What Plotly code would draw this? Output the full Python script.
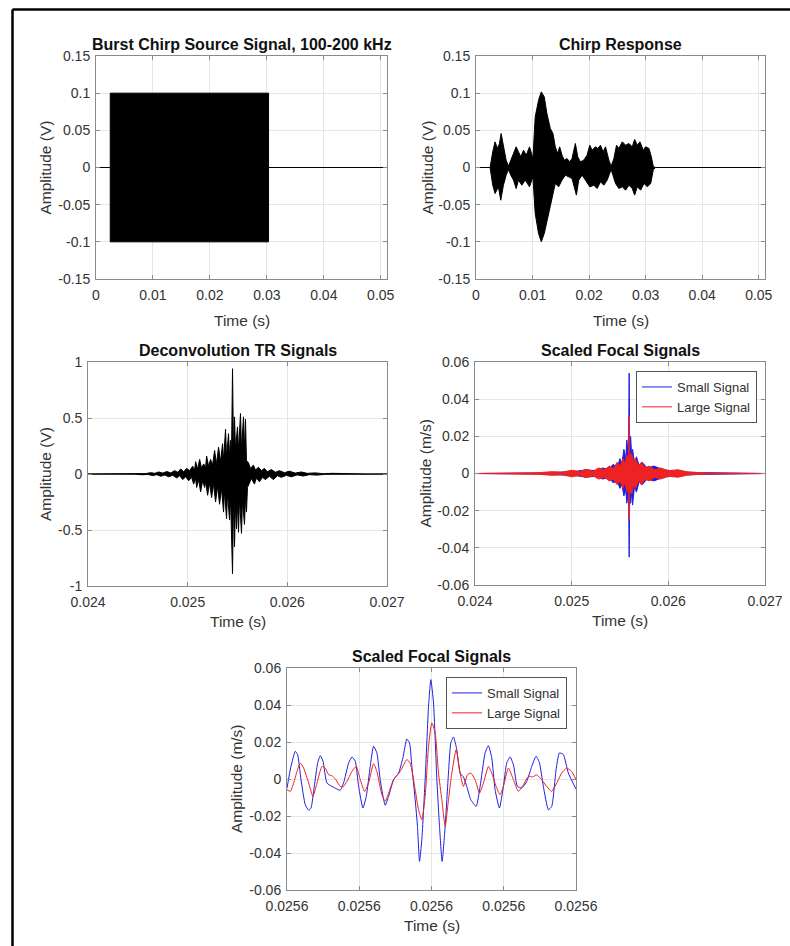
import plotly.graph_objects as go

W, H = 790, 946

# ---------------- DATA ----------------
# Panel 1: burst chirp source (envelope of the dense chirp)
src_time = [0.0, 0.0025, 0.0025, 0.0303, 0.0303, 0.0511]
src_env = [0.0, 0.0, 0.1, 0.1, 0.0, 0.0]

# Panel 2: chirp response envelope (upper / lower)
resp_up_t = [0.0, 0.00249, 0.00296, 0.00337, 0.00379, 0.00414, 0.00444, 0.00485, 0.00533, 0.00574,
             0.00615, 0.00663, 0.00710, 0.00751, 0.00793, 0.00840, 0.00888, 0.00947, 0.01006, 0.01047,
             0.01106, 0.01154, 0.01207, 0.01254, 0.01314, 0.01361, 0.01402, 0.01444, 0.01479, 0.01521,
             0.01562, 0.01609, 0.01657, 0.01698, 0.01757, 0.01799, 0.01846, 0.01905, 0.01964, 0.02012,
             0.02053, 0.02112, 0.02154, 0.02201, 0.02248, 0.02290, 0.02349, 0.02390, 0.02438, 0.02485,
             0.02526, 0.02586, 0.02645, 0.02704, 0.02763, 0.02805, 0.02852, 0.02899, 0.02958, 0.03000,
             0.03059, 0.03100, 0.03136, 0.03177, 0.0511]
resp_up = [0, 0, 0.0211, 0.0345, 0.0256, 0.032, 0.0457, 0.0278, 0.0099, 0.0018,
           0.0099, 0.0211, 0.0278, 0.0211, 0.0143, 0.0233, 0.0166, 0.0278, 0.0121, 0.0682,
           0.0906, 0.1018, 0.095, 0.0726, 0.0525, 0.0457, 0.0278, 0.0188, 0.0278, 0.0166,
           0.0099, 0.0121, 0.0076, 0.0121, 0.0323, 0.0143, 0.0076, 0.0099, 0.0166, 0.030,
           0.0233, 0.0278, 0.0256, 0.030, 0.0211, 0.0278, 0.0099, 0.0018, 0.0121, 0.030,
           0.0256, 0.0345, 0.030, 0.0323, 0.0278, 0.0377, 0.030, 0.0345, 0.0233, 0.0278,
           0.0256, 0.0143, 0.001, 0, 0]
resp_lo_t = [0.0, 0.00249, 0.00296, 0.00337, 0.00396, 0.00438, 0.00485, 0.00533, 0.00574, 0.00615,
             0.00663, 0.00710, 0.00751, 0.00811, 0.00870, 0.00947, 0.01006, 0.01047, 0.01106, 0.01154,
             0.01207, 0.01254, 0.01314, 0.01361, 0.01402, 0.01461, 0.01521, 0.01580, 0.01639, 0.01698,
             0.01775, 0.01816, 0.01876, 0.01935, 0.02012, 0.02083, 0.02142, 0.02201, 0.02260, 0.02319,
             0.02390, 0.02467, 0.02526, 0.02586, 0.02645, 0.02704, 0.02763, 0.02805, 0.02852, 0.02911,
             0.02970, 0.03029, 0.03089, 0.03136, 0.03177, 0.0511]
resp_lo = [0, 0, -0.0238, -0.035, -0.026, -0.044, -0.0238, -0.0103, -0.0027, -0.0103,
           -0.017, -0.0283, -0.017, -0.0238, -0.017, -0.026, -0.0126, -0.0619, -0.0888, -0.0999,
           -0.0888, -0.0709, -0.053, -0.035, -0.0215, -0.026, -0.017, -0.0103, -0.0126, -0.0148,
           -0.0372, -0.017, -0.0103, -0.017, -0.026, -0.0238, -0.0283, -0.0193, -0.0238, -0.017,
           -0.0027, -0.0215, -0.0283, -0.026, -0.0305, -0.0238, -0.0283, -0.0372, -0.026, -0.0305,
           -0.0215, -0.026, -0.0215, -0.0027, 0, 0]

# Panel 3: deconvolution TR signal envelope (spiky upper / lower)
tr_up_t = [0.02400, 0.02445, 0.02452, 0.02458, 0.02463, 0.02467, 0.02471, 0.02475, 0.02479, 0.02483,
           0.02487, 0.02490, 0.02493, 0.02496, 0.02499, 0.02502, 0.02505, 0.02507, 0.02508, 0.02510,
           0.02512, 0.02514, 0.02516, 0.02518, 0.02519, 0.02521, 0.02523, 0.02525, 0.02527, 0.02529,
           0.02531, 0.02533, 0.02535, 0.02536, 0.02538, 0.02539, 0.02541, 0.02542, 0.02543, 0.02544,
           0.02545, 0.02546, 0.02547, 0.02548, 0.02550, 0.02551, 0.02553, 0.02554, 0.02556, 0.02557,
           0.02558, 0.02559, 0.02561, 0.02563, 0.02566, 0.02568, 0.02571, 0.02574, 0.02577, 0.02580,
           0.02584, 0.02588, 0.02592, 0.02597, 0.02602, 0.02608, 0.02614, 0.02620, 0.02628, 0.02636,
           0.02645, 0.02655, 0.02665, 0.02680, 0.02700]
tr_up = [0, 0.002, 0.006, 0.004, 0.012, 0.006, 0.018, 0.008, 0.022, 0.01,
         0.03, 0.015, 0.045, 0.02, 0.05, 0.03, 0.07, 0.035, 0.11, 0.045,
         0.13, 0.05, 0.09, 0.06, 0.16, 0.07, 0.13, 0.08, 0.21, 0.09,
         0.24, 0.11, 0.27, 0.12, 0.40, 0.15, 0.36, 0.15, 0.30, 0.18,
         0.94, 0.20, 0.51, 0.22, 0.42, 0.20, 0.54, 0.22, 0.51, 0.20,
         0.49, 0.12, 0.10, 0.05, 0.08, 0.035, 0.06, 0.03, 0.05, 0.02,
         0.04, 0.015, 0.03, 0.012, 0.025, 0.008, 0.018, 0.006, 0.01, 0.003,
         0.006, 0.002, 0.003, 0, 0]
tr_lo_t = [0.02400, 0.02447, 0.02454, 0.02460, 0.02465, 0.02469, 0.02473, 0.02477, 0.02481, 0.02485,
           0.02489, 0.02492, 0.02495, 0.02498, 0.02501, 0.02504, 0.02506, 0.02508, 0.02509, 0.02511,
           0.02513, 0.02515, 0.02517, 0.02518, 0.02520, 0.02522, 0.02524, 0.02526, 0.02528, 0.02530,
           0.02532, 0.02534, 0.02536, 0.02537, 0.02539, 0.02540, 0.02542, 0.02543, 0.02545, 0.02546,
           0.02547, 0.02548, 0.02549, 0.02550, 0.02551, 0.02552, 0.02554, 0.02555, 0.02557, 0.02558,
           0.02559, 0.02560, 0.02562, 0.02564, 0.02567, 0.02569, 0.02572, 0.02575, 0.02578, 0.02582,
           0.02586, 0.02590, 0.02594, 0.02599, 0.02604, 0.02610, 0.02616, 0.02622, 0.02630, 0.02638,
           0.02647, 0.02657, 0.02667, 0.02680, 0.02700]
tr_lo = [0, -0.002, -0.007, -0.004, -0.014, -0.006, -0.02, -0.009, -0.025, -0.012,
         -0.035, -0.015, -0.05, -0.025, -0.06, -0.03, -0.09, -0.04, -0.12, -0.05,
         -0.16, -0.06, -0.12, -0.07, -0.19, -0.08, -0.21, -0.09, -0.25, -0.11,
         -0.27, -0.13, -0.34, -0.15, -0.40, -0.17, -0.41, -0.20, -0.89, -0.22,
         -0.65, -0.25, -0.49, -0.25, -0.52, -0.22, -0.53, -0.24, -0.45, -0.20,
         -0.34, -0.12, -0.08, -0.04, -0.09, -0.035, -0.07, -0.03, -0.05, -0.02,
         -0.05, -0.015, -0.03, -0.012, -0.025, -0.008, -0.018, -0.006, -0.01, -0.003,
         -0.006, -0.002, -0.003, 0, 0]

# Panel 4: scaled focal signals, full window (envelopes)
small_env_t = [0.02400, 0.02470, 0.02490, 0.02505, 0.02515, 0.02525, 0.02532, 0.02538, 0.02543, 0.02547,
               0.02550, 0.02552, 0.02554, 0.02556, 0.02557, 0.02558, 0.02559, 0.025595, 0.02560, 0.02561,
               0.02562, 0.02563, 0.02565, 0.02567, 0.02570, 0.02573, 0.02578, 0.02585, 0.02595, 0.02610,
               0.02630, 0.02700]
small_env_up = [0, 0.0003, 0.0008, 0.0012, 0.002, 0.0015, 0.003, 0.002, 0.005, 0.003,
                0.008, 0.005, 0.013, 0.008, 0.018, 0.012, 0.022, 0.054, 0.015, 0.020,
                0.010, 0.013, 0.006, 0.009, 0.004, 0.006, 0.003, 0.004, 0.002, 0.001,
                0.0005, 0]
small_env_lo = [0, -0.0003, -0.0008, -0.0012, -0.002, -0.0015, -0.003, -0.002, -0.005, -0.004,
                -0.008, -0.006, -0.012, -0.009, -0.016, -0.012, -0.017, -0.045, -0.012, -0.016,
                -0.010, -0.017, -0.007, -0.010, -0.004, -0.006, -0.003, -0.004, -0.002, -0.001,
                -0.0005, 0]
large_env_t = [0.02400, 0.02465, 0.02480, 0.02490, 0.02500, 0.02508, 0.02515, 0.02522, 0.02528, 0.02534,
               0.02539, 0.02543, 0.02547, 0.02550, 0.02553, 0.02555, 0.02557, 0.02559, 0.025595, 0.02560,
               0.02562, 0.02564, 0.02566, 0.02569, 0.02572, 0.02576, 0.02580, 0.02586, 0.02592, 0.02600,
               0.02610, 0.02620, 0.02640, 0.02700]
large_env_up = [0, 0.0004, 0.001, 0.0006, 0.0018, 0.001, 0.0022, 0.0012, 0.003, 0.002,
                0.004, 0.0025, 0.006, 0.004, 0.008, 0.005, 0.010, 0.008, 0.031, 0.009,
                0.011, 0.006, 0.008, 0.004, 0.006, 0.003, 0.004, 0.002, 0.003, 0.0015,
                0.002, 0.0008, 0.0003, 0]
large_env_lo = [0, -0.0004, -0.001, -0.0006, -0.0018, -0.001, -0.0022, -0.0012, -0.003, -0.002,
                -0.004, -0.003, -0.006, -0.004, -0.008, -0.005, -0.010, -0.008, -0.025, -0.009,
                -0.011, -0.006, -0.008, -0.004, -0.006, -0.003, -0.004, -0.002, -0.003, -0.0015,
                -0.002, -0.0008, -0.0003, 0]

# Panel 5: scaled focal signals, zoomed window
small_t = [0.02558000, 0.02558055, 0.02558115, 0.02558147, 0.02558194, 0.02558253, 0.02558300, 0.02558332,
           0.02558378, 0.02558424, 0.02558461, 0.02558498, 0.02558553, 0.02558622, 0.02558691, 0.02558737,
           0.02558783, 0.02558853, 0.02558899, 0.02558945, 0.02558991, 0.02559051, 0.02559097, 0.02559152,
           0.02559198, 0.02559244, 0.02559290, 0.02559359, 0.02559406, 0.02559475, 0.02559544, 0.02559604,
           0.02559659, 0.02559696, 0.02559728, 0.02559774, 0.02559806, 0.02559834, 0.02559866, 0.02559912,
           0.02559959, 0.02559991, 0.02560028, 0.02560074, 0.02560111, 0.02560147, 0.02560189, 0.02560235,
           0.02560267, 0.02560304, 0.02560350, 0.02560396, 0.02560442, 0.02560488, 0.02560544, 0.02560618,
           0.02560673, 0.02560742, 0.02560788, 0.02560834, 0.02560880, 0.02560940, 0.02560995, 0.02561041,
           0.02561088, 0.02561134, 0.02561189, 0.02561249, 0.02561318, 0.02561387, 0.02561447, 0.02561493,
           0.02561548, 0.02561618, 0.02561664, 0.02561724, 0.02561770, 0.02561825, 0.02561894, 0.02562000]
small_y = [-0.0049, 0.0068, 0.0150, 0.0132, -0.0004, -0.0139, -0.0169, -0.0157,
           -0.0040, 0.0086, 0.0126, 0.0096, -0.0022, -0.0040, -0.0054, -0.0061,
           -0.0022, 0.0086, 0.0119, 0.0096, -0.0040, -0.0157, -0.0094, 0.0068,
           0.0177, 0.0141, -0.0004, -0.0142, -0.0094, -0.0004, 0.0032, 0.0114,
           0.0216, 0.0195, 0.0068, -0.0112, -0.0256, -0.0445, -0.0328, -0.0004,
           0.0393, 0.0537, 0.0411, -0.0004, -0.0256, -0.0445, -0.0256, 0.0032,
           0.0195, 0.0227, 0.0159, 0.0032, 0.0011, -0.0040, -0.0112, -0.0148,
           -0.0040, 0.0141, 0.0180, 0.0114, -0.0058, -0.0157, -0.0040, 0.0086,
           0.0119, 0.0077, -0.0040, -0.0049, -0.0013, 0.0068, 0.0123, 0.0090,
           -0.0040, -0.0166, -0.0148, 0.0050, 0.0141, 0.0132, 0.0032, -0.0054]
large_t = [0.02558000, 0.02558046, 0.02558092, 0.02558138, 0.02558184, 0.02558230, 0.02558300, 0.02558359,
           0.02558415, 0.02558484, 0.02558530, 0.02558576, 0.02558622, 0.02558677, 0.02558737, 0.02558783,
           0.02558829, 0.02558899, 0.02558959, 0.02559014, 0.02559074, 0.02559129, 0.02559198, 0.02559244,
           0.02559313, 0.02559359, 0.02559406, 0.02559475, 0.02559567, 0.02559659, 0.02559705, 0.02559774,
           0.02559820, 0.02559866, 0.02559912, 0.02559959, 0.02560005, 0.02560051, 0.02560097, 0.02560143,
           0.02560189, 0.02560235, 0.02560281, 0.02560341, 0.02560396, 0.02560442, 0.02560498, 0.02560544,
           0.02560604, 0.02560664, 0.02560719, 0.02560788, 0.02560834, 0.02560894, 0.02560949, 0.02560995,
           0.02561065, 0.02561134, 0.02561203, 0.02561272, 0.02561341, 0.02561401, 0.02561456, 0.02561525,
           0.02561594, 0.02561664, 0.02561733, 0.02561802, 0.02561871, 0.02561940, 0.02562000]
large_y = [-0.0058, -0.0067, -0.0022, 0.0041, 0.0086, 0.0059, -0.0022, -0.0094,
           -0.0022, 0.0068, 0.0059, 0.0023, 0.0018, -0.0004, -0.0040, -0.0040,
           -0.0013, 0.0041, 0.0068, -0.0004, -0.0067, -0.0022, 0.0083, 0.0041,
           -0.0085, -0.0121, -0.0076, -0.0004, 0.0041, 0.0105, 0.0086, -0.0058,
           -0.0166, -0.0220, -0.0094, 0.0177, 0.0303, 0.0249, 0.0032, -0.0112,
           -0.0256, -0.0112, 0.0032, 0.0159, 0.0032, -0.0040, 0.0023, 0.0032,
           -0.0004, -0.0076, -0.0022, 0.0068, 0.0032, -0.0040, -0.0085, -0.0040,
           0.0059, -0.0004, -0.0067, -0.0031, 0.0014, 0.0011, 0.0023, -0.0004,
           -0.0040, -0.0067, -0.0022, 0.0032, 0.0059, 0.0041, -0.0004]

# Tick definitions
t1_xticks = [0, 0.01, 0.02, 0.03, 0.04, 0.05]
t1_xlabels = ["0", "0.01", "0.02", "0.03", "0.04", "0.05"]
t1_yticks = [-0.15, -0.1, -0.05, 0, 0.05, 0.1, 0.15]
t1_ylabels = ["-0.15", "-0.1", "-0.05", "0", "0.05", "0.1", "0.15"]
t3_xticks = [0.024, 0.025, 0.026, 0.027]
t3_xlabels = ["0.024", "0.025", "0.026", "0.027"]
t3_yticks = [-1, -0.5, 0, 0.5, 1]
t3_ylabels = ["-1", "-0.5", "0", "0.5", "1"]
t4_yticks = [-0.06, -0.04, -0.02, 0, 0.02, 0.04, 0.06]
t4_ylabels = ["-0.06", "-0.04", "-0.02", "0", "0.02", "0.04", "0.06"]
t5_xticks = [0.02558, 0.02559, 0.02560, 0.02561, 0.02562]
t5_xlabels = ["0.0256", "0.0256", "0.0256", "0.0256", "0.0256"]

titles = ["Burst Chirp Source Signal, 100-200 kHz", "Chirp Response", "Deconvolution TR Signals",
          "Scaled Focal Signals", "Scaled Focal Signals"]
series_names = ["Small Signal", "Large Signal"]

# ---------------- LAYOUT HELPERS ----------------
def px_x(p):
    return p / W

def px_y(p):
    return 1 - p / H

boxes = {  # left, right, top, bottom in pixels
    1: (96, 387, 56, 279),
    2: (476, 765, 56, 279),
    3: (88, 387, 362, 586),
    4: (475, 765, 362, 585),
    5: (287, 576, 668, 890),
}

FONT = "Liberation Sans, Arial, sans-serif"
AX_COL = "#8a8a8a"
TXT_COL = "#333333"
GRID_COL = "#e6e6e6"
BLUE = "#1f1fe0"
RED = "#ee2222"

fig = go.Figure()

def band(xs_up, ys_up, xs_lo, ys_lo, color, axis):
    xs = list(xs_up) + list(xs_lo)[::-1]
    ys = list(ys_up) + list(ys_lo)[::-1]
    fig.add_trace(go.Scatter(x=xs, y=ys, mode="lines", fill="toself", fillcolor=color,
                             line=dict(color=color, width=1), hoverinfo="skip",
                             showlegend=False, xaxis="x" + axis, yaxis="y" + axis))

# Panel 1
band(src_time, src_env, src_time, [-v for v in src_env], "black", "")
# Panel 2
band(resp_up_t, resp_up, resp_lo_t, resp_lo, "black", "2")
# Panel 3
band(tr_up_t, tr_up, tr_lo_t, tr_lo, "black", "3")
# Panel 4
band(small_env_t, small_env_up, small_env_t, small_env_lo, BLUE, "4")
band(large_env_t, large_env_up, large_env_t, large_env_lo, RED, "4")
fig.add_trace(go.Scatter(x=[None], y=[None], mode="lines", name=series_names[0],
                         line=dict(color=BLUE, width=1), xaxis="x4", yaxis="y4", legend="legend"))
fig.add_trace(go.Scatter(x=[None], y=[None], mode="lines", name=series_names[1],
                         line=dict(color=RED, width=1), xaxis="x4", yaxis="y4", legend="legend"))
# Panel 5
fig.add_trace(go.Scatter(x=small_t, y=small_y, mode="lines", name=series_names[0],
                         line=dict(color=BLUE, width=1, shape="spline", smoothing=0.5),
                         xaxis="x5", yaxis="y5", legend="legend2"))
fig.add_trace(go.Scatter(x=large_t, y=large_y, mode="lines", name=series_names[1],
                         line=dict(color=RED, width=1, shape="spline", smoothing=0.5),
                         xaxis="x5", yaxis="y5", legend="legend2"))

def axis_common():
    return dict(showline=True, linecolor=AX_COL, linewidth=1, mirror="ticks", ticks="inside",
                ticklen=4, tickcolor=AX_COL, showgrid=True, gridcolor=GRID_COL, gridwidth=1,
                zeroline=False, automargin=False,
                tickfont=dict(family=FONT, size=14, color=TXT_COL))

specs = {
    1: ([0, 0.0511], t1_xticks, t1_xlabels, [-0.15, 0.15], t1_yticks, t1_ylabels),
    2: ([0, 0.0511], t1_xticks, t1_xlabels, [-0.15, 0.15], t1_yticks, t1_ylabels),
    3: ([0.024, 0.027], t3_xticks, t3_xlabels, [-1, 1], t3_yticks, t3_ylabels),
    4: ([0.024, 0.027], t3_xticks, t3_xlabels, [-0.06, 0.06], t4_yticks, t4_ylabels),
    5: ([0.02558, 0.02562], t5_xticks, t5_xlabels, [-0.06, 0.06], t4_yticks, t4_ylabels),
}

layout = {}
for i, (xr, xt, xl, yr, yt, yl) in specs.items():
    l, r, t, b = boxes[i]
    sfx = "" if i == 1 else str(i)
    xa = axis_common()
    xa.update(domain=[px_x(l), px_x(r)], range=xr, tickvals=xt, ticktext=xl,
              anchor="y" + sfx, ticklabelstandoff=3)
    ya = axis_common()
    ya.update(domain=[px_y(b), px_y(t)], range=yr, tickvals=yt, ticktext=yl,
              anchor="x" + sfx, ticklabelstandoff=2)
    layout["xaxis" + sfx] = xa
    layout["yaxis" + sfx] = ya

annotations = []
ylab_x = {1: 45, 2: 427, 3: 45, 4: 425, 5: 236}
ylab_txt = {1: "Amplitude (V)", 2: "Amplitude (V)", 3: "Amplitude (V)", 4: "Amplitude (m/s)", 5: "Amplitude (m/s)"}
title_y = {1: 45, 2: 45, 3: 350, 4: 350, 5: 656}
xlab_y = {1: 320, 2: 320, 3: 621, 4: 620, 5: 925}
for i in range(1, 6):
    l, r, t, b = boxes[i]
    cx = (l + r) / 2
    cy = (t + b) / 2
    annotations.append(dict(text="<b>" + titles[i - 1] + "</b>", x=px_x(cx), y=px_y(title_y[i]),
                            xref="paper", yref="paper", showarrow=False, xanchor="center", yanchor="middle",
                            font=dict(family=FONT, size=16, color="#111111")))
    annotations.append(dict(text="Time (s)", x=px_x(cx), y=px_y(xlab_y[i]),
                            xref="paper", yref="paper", showarrow=False, xanchor="center", yanchor="middle",
                            font=dict(family=FONT, size=15.5, color=TXT_COL)))
    annotations.append(dict(text=ylab_txt[i], x=px_x(ylab_x[i]), y=px_y(cy), textangle=-90,
                            xref="paper", yref="paper", showarrow=False, xanchor="center", yanchor="middle",
                            font=dict(family=FONT, size=15.5, color=TXT_COL)))

legend_style = dict(bgcolor="white", bordercolor="#555555", borderwidth=1,
                    font=dict(family=FONT, size=13, color=TXT_COL), xanchor="right", yanchor="top",
                    xref="paper", yref="paper", tracegroupgap=0, itemwidth=30)

fig.update_layout(
    width=W, height=H, autosize=False,
    margin=dict(l=0, r=0, t=0, b=0, pad=0, autoexpand=False),
    paper_bgcolor="white", plot_bgcolor="white",
    annotations=annotations,
    legend=dict(x=px_x(757), y=px_y(371), **legend_style),
    legend2=dict(x=px_x(567), y=px_y(677), **legend_style),
    shapes=[
        dict(type="line", xref="paper", yref="paper", x0=px_x(12.5), x1=px_x(12.5), y0=0, y1=px_y(9.5),
             line=dict(color="black", width=2.5)),
        dict(type="line", xref="paper", yref="paper", x0=px_x(12.5), x1=1, y0=px_y(9.5), y1=px_y(9.5),
             line=dict(color="black", width=2.5)),
    ],
    **layout,
)

fig.write_html("out.html", config={"displayModeBar": False},
               post_script="document.body.style.margin='0';document.body.style.overflow='hidden';")
